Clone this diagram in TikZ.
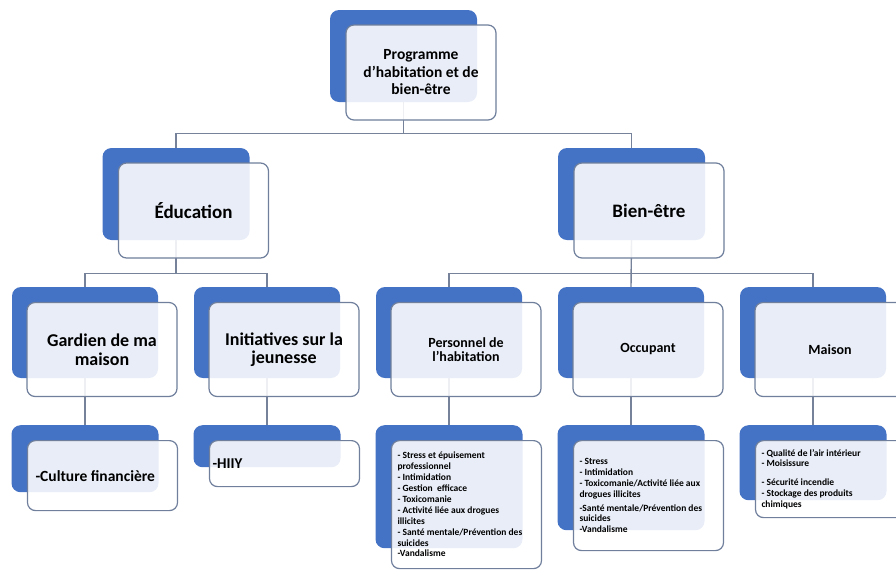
\documentclass[tikz,border=0pt]{standalone}
\usepackage{fontspec}
\setmainfont{Carlito}
\definecolor{boxblue}{HTML}{4472C4}
\definecolor{edgegray}{HTML}{6F7F9C}
\definecolor{linegray}{HTML}{76829A}
\newcommand{\fsz}[2]{\fontsize{#1}{#2}\selectfont\bfseries}

\begin{document}
\begin{tikzpicture}[x=1pt,y=-1pt,
    back/.style={fill=boxblue, rounded corners=9pt, minimum width=147pt, minimum height=92pt, inner sep=0pt},
    front/.style={draw=edgegray, line width=1.2pt, fill=white, fill opacity=0.88, text opacity=1,
        rounded corners=8pt, minimum width=150pt, minimum height=95pt, inner sep=4pt, align=center},
    list/.style={front, align=flush left, text width=138pt, inner xsep=6pt, font=\fsz{9.5}{10.9}},
    link/.style={draw=linegray, line width=1.4pt}]
\useasboundingbox (0,0) rectangle (896,571);

% back boxes
\node[back] (prog-b) at (403.5,56) {};
\node[back] (edu-b) at (176,194) {};
\node[back] (bien-b) at (631.5,194) {};
\foreach \n/\x in {gard/85, init/267, pers/449, occ/631, mais/813}
    \node[back, minimum width=146pt, minimum height=91pt] (\n-b) at (\x,332.5) {};
\node[back, anchor=north, minimum height=67pt] (cult-b) at (85,425) {};
\node[back, anchor=north, minimum height=42pt] (hiiy-b) at (267,425) {};
\node[back, anchor=north, minimum height=123pt] (staff-b) at (449,425) {};
\node[back, anchor=north, minimum height=105pt] (occl-b) at (631,425) {};
\node[back, anchor=north, minimum height=75pt] (home-b) at (813,425) {};

% connectors
\draw[link] (prog-b.south) -- ++(0,31) -| (edu-b.north);
\draw[link] (prog-b.south) -- ++(0,31) -| (bien-b.north);
\draw[link] (edu-b.south) -- ++(0,33) -| (gard-b.north);
\draw[link] (edu-b.south) -- ++(0,33) -| (init-b.north);
\draw[link] (bien-b.south) -- ++(0,33) -| (pers-b.north);
\draw[link] (bien-b.south) -- (occ-b.north);
\draw[link] (bien-b.south) -- ++(0,33) -| (mais-b.north);
\foreach \a/\b in {gard/cult, init/hiiy, pers/staff, occ/occl, mais/home}
    \draw[link] (\a-b.south) -- (\b-b.north);

% front boxes
\node[front, font=\fsz{15.5}{17.5}] (prog) at ([shift={(17.5,16.5)}]prog-b.center) {Programme\\d'habitation et de\\bien-être};
\node[front, font=\fsz{19}{21}] (edu) at ([shift={(17.5,16.5)}]edu-b.center) {Éducation};
\node[front, font=\fsz{19}{21}] (bien) at ([shift={(17.5,16.5)}]bien-b.center) {Bien-être};
\node[front, minimum height=94pt, font=\fsz{18}{18.5}] (gard) at ([shift={(17,17)}]gard-b.center) {Gardien de ma\\maison};
\node[front, minimum height=94pt, font=\fsz{18}{18.5}] (init) at ([shift={(17,17)}]init-b.center) {Initiatives sur la\\jeunesse};
\node[front, minimum height=94pt, font=\fsz{14}{14.5}] (pers) at ([shift={(17,17)}]pers-b.center) {Personnel de\\l'habitation};
\node[front, minimum height=94pt, font=\fsz{14}{14.5}] (occ) at ([shift={(17,17)}]occ-b.center) {Occupant};
\node[front, minimum height=94pt, font=\fsz{14}{14.5}] (mais) at ([shift={(17,17)}]mais-b.center) {Maison};

\node[list, anchor=north, minimum height=70pt, font=\fsz{15.5}{17}, inner xsep=8pt, text width=134pt] (cult) at ([shift={(17.5,15)}]cult-b.north) {-Culture financière};
\node[list, anchor=north, minimum height=46pt, font=\fsz{15}{17}, inner xsep=3pt, text width=144pt] (hiiy) at ([shift={(17.5,15)}]hiiy-b.north) {-HIIY};
\node[list, anchor=north, minimum height=128pt] (staff) at ([shift={(17.5,15)}]staff-b.north)
    {- Stress et épuisement\\professionnel\\- Intimidation\\- Gestion~~efficace\\- Toxicomanie\\- Activité liée aux drogues\\illicites\\- Santé mentale/Prévention des\\suicides\\-Vandalisme};
\node[list, anchor=north, minimum height=110pt] (occl) at ([shift={(17.5,15)}]occl-b.north)
    {- Stress\\- Intimidation\\- Toxicomanie/Activité liée aux\\drogues illicites\\[3pt]-Santé mentale/Prévention des\\suicides\\-Vandalisme};
\node[list, anchor=north, minimum height=77pt] (home) at ([shift={(17.5,15)}]home-b.north)
    {- Qualité de l'air intérieur\\- Moisissure\\[8pt]- Sécurité incendie\\- Stockage des produits\\chimiques};
\end{tikzpicture}
\end{document}
